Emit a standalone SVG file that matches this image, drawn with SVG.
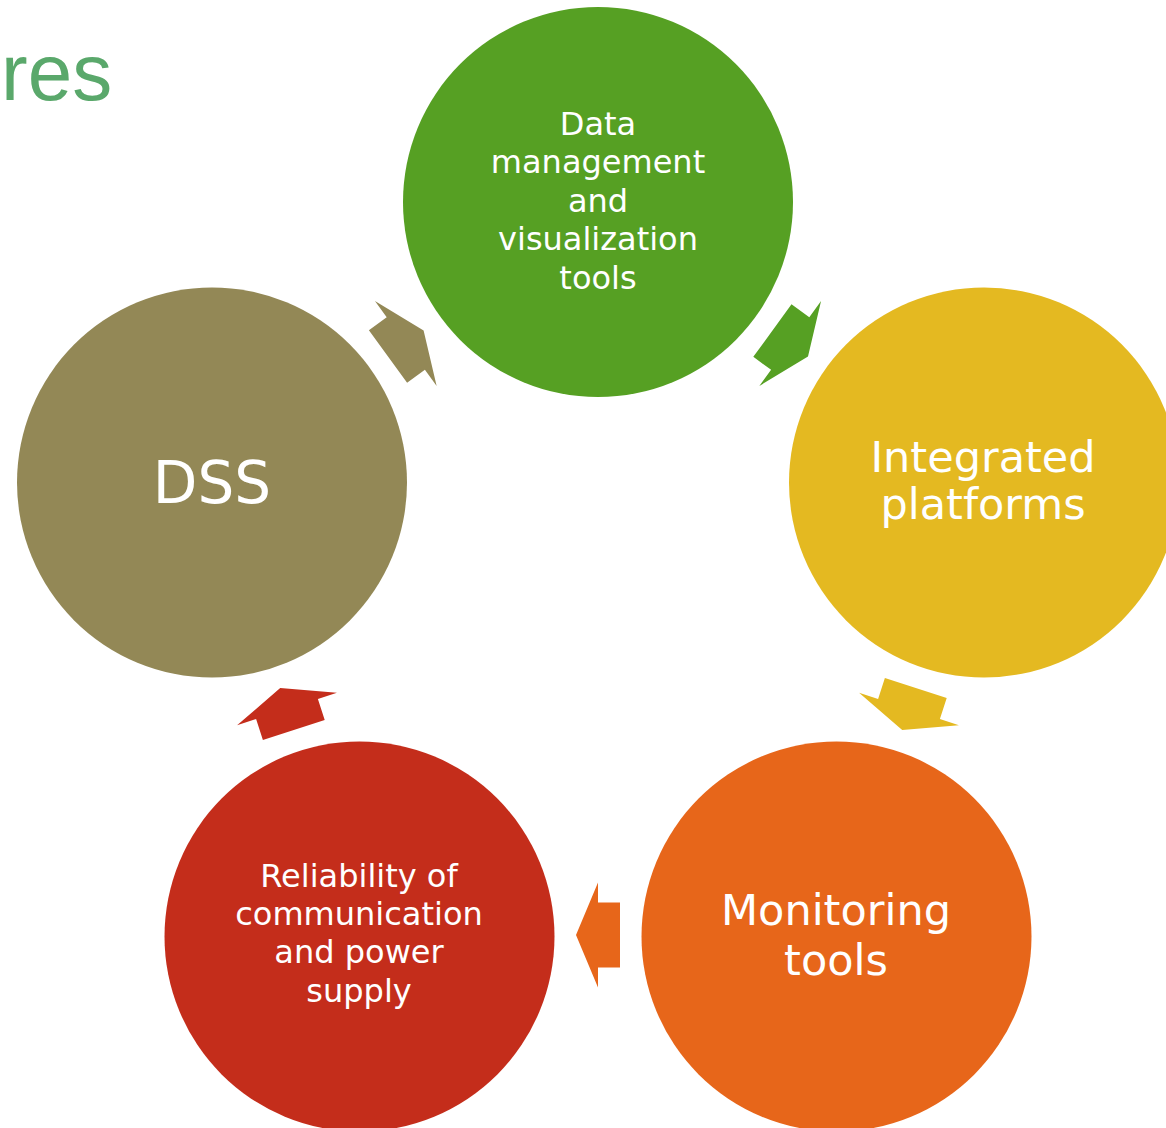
<svg xmlns="http://www.w3.org/2000/svg" width="1166" height="1128" viewBox="0 0 1166 1128">
  <style>
    .label { font-family: "DejaVu Sans", "Liberation Sans", sans-serif; fill: #ffffff; text-anchor: middle; }
    .title { font-family: "Liberation Sans", "DejaVu Sans", sans-serif; fill: #5AA86B; }
    .c-green { fill: #56A023; }
    .c-yellow { fill: #E4B921; }
    .c-orange { fill: #E7661A; }
    .c-red { fill: #C42D1B; }
    .c-olive { fill: #938856; }
  </style>
  <defs>
    <!-- cycle arrow pointing along +x, centred on the head base -->
    <polygon id="cycle-arrow" points="-22,-32.5 0,-32.5 0,-52.5 22,0 0,52.5 0,32.5 -22,32.5"/>
  </defs>

  <rect width="1166" height="1128" fill="#ffffff"/>

  <text class="title" x="1" y="100" font-size="80">res</text>

  <!-- connectors: arrows on the ring between the nodes -->
  <g id="connectors">
    <use href="#cycle-arrow" class="c-green" transform="translate(790.2,343.5) rotate(36)"/>
    <use href="#cycle-arrow" class="c-yellow" transform="translate(909,709) rotate(108)"/>
    <use href="#cycle-arrow" class="c-orange" transform="translate(598,935) rotate(180)"/>
    <use href="#cycle-arrow" class="c-red" transform="translate(287,709) rotate(252)"/>
    <use href="#cycle-arrow" class="c-olive" transform="translate(405.8,343.5) rotate(324)"/>
  </g>

  <g id="node-data">
    <circle class="c-green" cx="598" cy="202" r="195"/>
    <text class="label" font-size="32" x="598" y="135">Data</text>
    <text class="label" font-size="32" x="598" y="173">management</text>
    <text class="label" font-size="32" x="598" y="212">and</text>
    <text class="label" font-size="32" x="598" y="250">visualization</text>
    <text class="label" font-size="32" x="598" y="289">tools</text>
  </g>

  <g id="node-platforms">
    <circle class="c-yellow" cx="984" cy="482.5" r="195"/>
    <text class="label" font-size="43" x="983" y="472">Integrated</text>
    <text class="label" font-size="43" x="983" y="519">platforms</text>
  </g>

  <g id="node-monitoring">
    <circle class="c-orange" cx="836.5" cy="936.5" r="195"/>
    <text class="label" font-size="43" x="836" y="925">Monitoring</text>
    <text class="label" font-size="43" x="836" y="975">tools</text>
  </g>

  <g id="node-reliability">
    <circle class="c-red" cx="359.5" cy="936.5" r="195"/>
    <text class="label" font-size="32" x="359" y="887">Reliability of</text>
    <text class="label" font-size="32" x="359" y="925">communication</text>
    <text class="label" font-size="32" x="359" y="963">and power</text>
    <text class="label" font-size="32" x="359" y="1002">supply</text>
  </g>

  <g id="node-dss">
    <circle class="c-olive" cx="212" cy="482.5" r="195"/>
    <text class="label" x="212" y="503" font-size="58">DSS</text>
  </g>
</svg>
